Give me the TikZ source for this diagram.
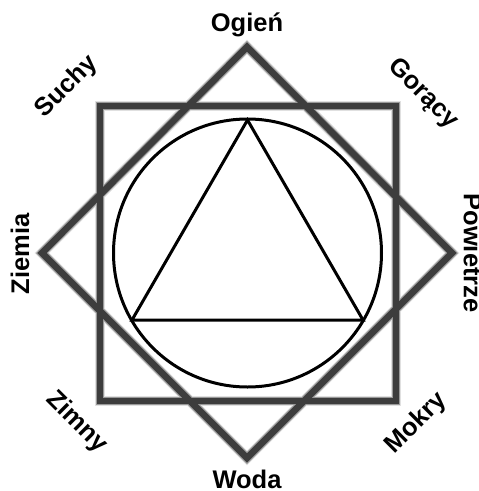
\documentclass[tikz,border=0pt]{standalone}
\usepackage{fontspec}
\setmainfont{Liberation Sans}
\begin{document}
\begin{tikzpicture}[x=1pt,y=-1pt,
  halo/.style={draw=black!12,line width=10.5pt,line join=miter},
  halo2/.style={draw=black!40,line width=8.5pt,line join=miter},
  thick line/.style={draw=black!76,line width=6.5pt,line join=miter},
  thin line/.style={draw=black,line width=3pt,line join=miter},
  lab/.style={font=\fontsize{25.5}{30}\selectfont\bfseries,inner sep=0pt}]
\useasboundingbox (0,0) rectangle (479,491);
\coordinate (c) at (247.5,253);
% square
\coordinate (s1) at (100,106);
\coordinate (s2) at (396,106);
\coordinate (s3) at (396,401);
\coordinate (s4) at (100,401);
% diamond
\coordinate (d1) at (247,47);
\coordinate (d2) at (452,253);
\coordinate (d3) at (247,458);
\coordinate (d4) at (42,253);
% triangle
\coordinate (t1) at (247.5,120);
\coordinate (t2) at (132,320);
\coordinate (t3) at (363,320);
\foreach \st in {halo,halo2,thick line}{
  \draw[\st] (s1) -- (s2) -- (s3) -- (s4) -- cycle;
  \draw[\st] (d1) -- (d2) -- (d3) -- (d4) -- cycle;
}
\draw[thin line] (c) circle[radius=134];
\draw[thin line] (t1) -- (t2) -- (t3) -- cycle;
% labels
\node[lab] (ogien) at (247,25) {Ogień};
\node[lab] (woda) at (247,479) {Woda};
\node[lab,rotate=90] (ziemia) at (20,254) {Ziemia};
\node[lab,rotate=-90] (powietrze) at (473,253) {Powietrze};
\node[lab,rotate=45] (suchy) at (67,87) {Suchy};
\node[lab,rotate=-45] (goracy) at (423,94) {Gorący};
\node[lab,rotate=-45] (zimny) at (77,422) {Zimny};
\node[lab,rotate=45] (mokry) at (416,423) {Mokry};
\end{tikzpicture}
\end{document}
